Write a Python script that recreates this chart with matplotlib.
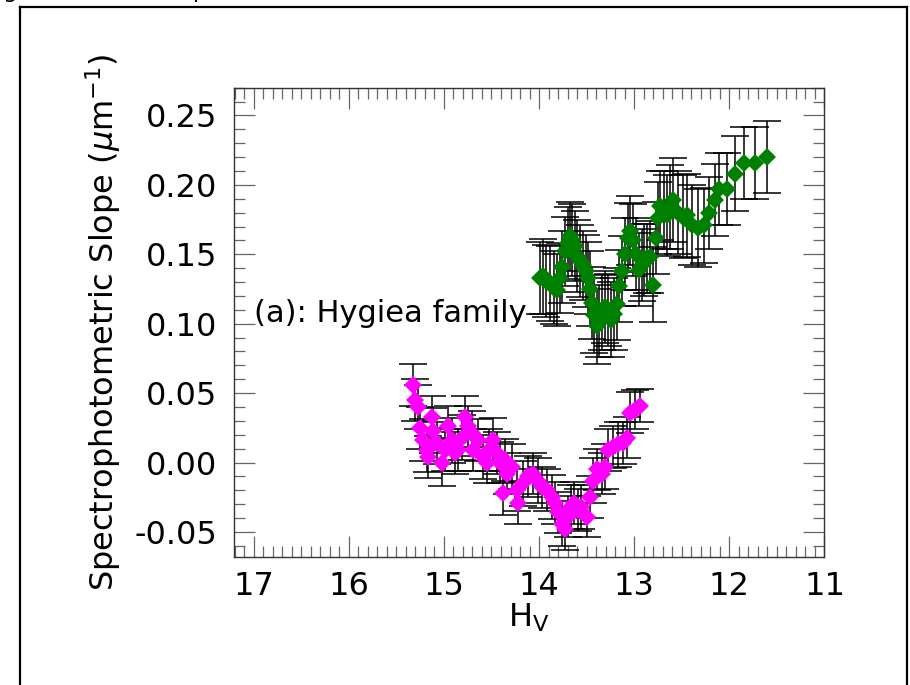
import matplotlib
matplotlib.use("Agg")
import matplotlib.pyplot as plt
from matplotlib.lines import Line2D
from matplotlib.ticker import MultipleLocator, FormatStrFormatter

plt.rcParams["axes.unicode_minus"] = False
plt.rcParams["font.family"] = "DejaVu Sans"

# ============================================================
# DADOS (H_V, inclinação, erro)
# ============================================================
h_verde = [13.992, 13.961, 13.929, 13.888, 13.847, 13.815, 13.784, 13.764, 13.732, 13.701,
           13.670, 13.649, 13.618, 13.598, 13.566, 13.535, 13.504, 13.483, 13.463, 13.442,
           13.421, 13.390, 13.369, 13.338, 13.307, 13.276, 13.245, 13.214, 13.183, 13.162,
           13.131, 13.100, 13.068, 13.048, 13.017, 12.985, 12.954, 12.923, 12.892, 12.861,
           12.830, 12.799, 12.768, 12.747, 12.726, 12.685, 12.653, 12.622, 12.591, 12.539,
           12.487, 12.446, 12.394, 12.332, 12.270, 12.218, 12.155, 12.104, 12.021, 11.938,
           11.844, 11.730, 11.606]
s_verde = [0.133, 0.134, 0.131, 0.129, 0.126, 0.124, 0.133, 0.141, 0.152, 0.158,
           0.163, 0.160, 0.156, 0.149, 0.145, 0.142, 0.138, 0.133, 0.125, 0.115,
           0.106, 0.098, 0.102, 0.108, 0.112, 0.110, 0.103, 0.107, 0.114, 0.127,
           0.138, 0.150, 0.162, 0.167, 0.160, 0.150, 0.139, 0.142, 0.146, 0.147,
           0.148, 0.128, 0.162, 0.176, 0.185, 0.182, 0.178, 0.184, 0.189, 0.180,
           0.177, 0.178, 0.171, 0.169, 0.171, 0.180, 0.189, 0.197, 0.197, 0.208,
           0.216, 0.216, 0.220]
e_verde = [0.026, 0.027, 0.026, 0.027, 0.026, 0.026, 0.025, 0.026, 0.025, 0.026,
           0.025, 0.026, 0.025, 0.026, 0.026, 0.025, 0.026, 0.026, 0.027, 0.026,
           0.027, 0.027, 0.026, 0.027, 0.026, 0.026, 0.027, 0.026, 0.026, 0.026,
           0.025, 0.026, 0.025, 0.025, 0.026, 0.026, 0.026, 0.026, 0.026, 0.025,
           0.026, 0.027, 0.026, 0.026, 0.025, 0.028, 0.029, 0.030, 0.030, 0.030,
           0.030, 0.030, 0.029, 0.028, 0.027, 0.026, 0.026, 0.026, 0.026, 0.027,
           0.026, 0.026, 0.026]

h_magenta = [15.330, 15.299, 15.268, 15.247, 15.216, 15.175, 15.164, 15.123, 15.112, 15.071,
             15.019, 14.988, 14.957, 14.915, 14.884, 14.853, 14.811, 14.780, 14.749, 14.708,
             14.697, 14.645, 14.594, 14.552, 14.521, 14.479, 14.438, 14.407, 14.376, 14.355,
             14.334, 14.282, 14.230, 14.220, 14.168, 14.116, 14.064, 14.013, 13.971, 13.919,
             13.867, 13.836, 13.805, 13.764, 13.732, 13.701, 13.660, 13.629, 13.587, 13.556,
             13.494, 13.463, 13.432, 13.390, 13.338, 13.307, 13.276, 13.224, 13.172, 13.120,
             13.079, 13.048, 12.996, 12.944]
s_magenta = [0.056, 0.045, 0.040, 0.025, 0.016, 0.009, 0.004, 0.033, 0.023, 0.014,
             0.000, 0.009, 0.026, 0.016, 0.007, 0.009, 0.018, 0.033, 0.026, 0.021,
             0.009, 0.016, 0.004, 0.000, 0.009, 0.016, 0.007, 0.000, -0.022, 0.002,
             -0.008, -0.003, -0.020, -0.029, -0.015, -0.010, -0.008, -0.013, -0.018, -0.020,
             -0.025, -0.029, -0.036, -0.044, -0.048, -0.039, -0.032, -0.029, -0.034, -0.032,
             -0.039, -0.025, -0.013, -0.005, -0.008, -0.003, 0.009, 0.011, 0.013, 0.014,
             0.018, 0.036, 0.038, 0.041]
e_magenta = [0.015, 0.015, 0.016, 0.015, 0.015, 0.016, 0.015, 0.015, 0.016, 0.015,
             0.017, 0.015, 0.015, 0.016, 0.015, 0.015, 0.016, 0.015, 0.015, 0.016,
             0.015, 0.015, 0.016, 0.015, 0.015, 0.016, 0.015, 0.015, 0.016, 0.015,
             0.015, 0.016, 0.015, 0.015, 0.016, 0.015, 0.015, 0.016, 0.015, 0.015,
             0.016, 0.015, 0.015, 0.016, 0.015, 0.015, 0.016, 0.015, 0.015, 0.016,
             0.015, 0.015, 0.016, 0.015, 0.015, 0.016, 0.015, 0.015, 0.016, 0.015,
             0.015, 0.015, 0.014, 0.012]

fig = plt.figure(figsize=(9.1, 6.85), dpi=100)
ax = fig.add_axes([0.257, 0.187, 0.649, 0.685])

for h, s, e, cor in [(h_verde, s_verde, e_verde, "#008000"),
                     (h_magenta, s_magenta, e_magenta, "#ff00ff")]:
    ax.errorbar(h, s, yerr=e, fmt="none", ecolor="black", elinewidth=1.1,
                capsize=10, capthick=1.1, zorder=2)
    ax.plot(h, s, "D", color=cor, markersize=9, markeredgewidth=0, zorder=3)

ax.set_xlim(17.208, 11)
ax.set_ylim(-0.068, 0.27)
ax.xaxis.set_major_locator(MultipleLocator(1))
ax.xaxis.set_minor_locator(MultipleLocator(0.1))
ax.yaxis.set_major_locator(MultipleLocator(0.05))
ax.yaxis.set_minor_locator(MultipleLocator(0.01))
ax.yaxis.set_major_formatter(FormatStrFormatter("%.2f"))
ax.tick_params(which="both", direction="in", top=True, right=True, color="#666666")
ax.tick_params(which="major", length=15, width=0.9, labelsize=23)
ax.tick_params(which="minor", length=8, width=0.9)
ax.tick_params(axis="y", which="major", pad=12)
ax.tick_params(axis="x", which="major", pad=10)
for sp in ax.spines.values():
    sp.set_linewidth(1.0)
    sp.set_color("#333333")

ax.set_xlabel("H$_\\mathrm{V}$", fontsize=23, labelpad=0)
ax.set_ylabel("Spectrophotometric Slope ($\\mu$m$^{-1}$)", fontsize=23, labelpad=8)
ax.text(17.0, 0.107, "(a): Hygiea family", fontsize=22, va="center", ha="left")

# moldura da figura e fragmento da legenda cortada no topo
for x0, y0, x1, y1 in [(0.022, 0.9895, 0.9967, 0.9895),
                       (0.022, 0.9895, 0.022, 0.0),
                       (0.9967, 0.9895, 0.9967, 0.0)]:
    fig.add_artist(Line2D([x0, x1], [y0, y1], transform=fig.transFigure,
                          color="black", linewidth=1.6))
fig.text(-0.002, 1.012, "igure", fontsize=16, va="center", ha="left")
fig.text(0.212, 1.012, "p", fontsize=16, va="center", ha="left")

plt.savefig("out.png", dpi=100)
plt.close()
